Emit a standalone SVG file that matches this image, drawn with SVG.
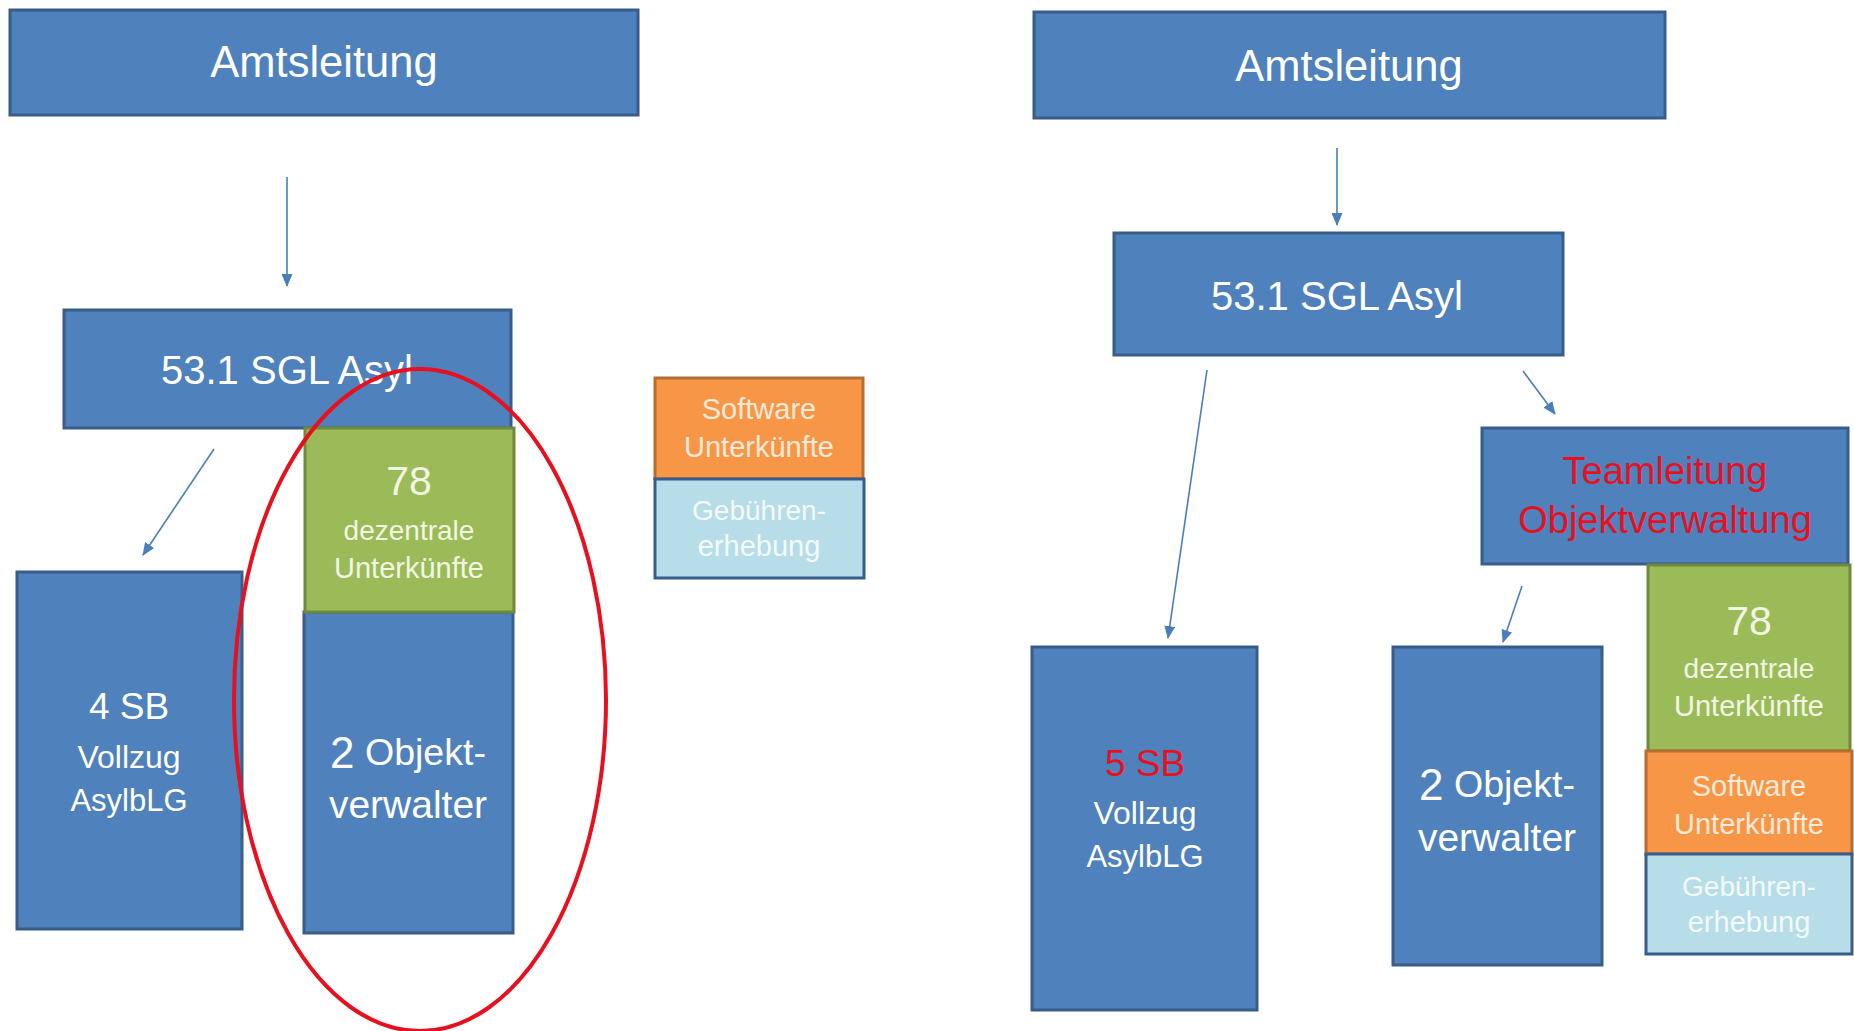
<svg xmlns="http://www.w3.org/2000/svg" width="1854" height="1031" viewBox="0 0 1854 1031">
<style>
text{font-family:"Liberation Sans",Arial,sans-serif;text-anchor:middle;dominant-baseline:central}
.b{fill:#4F81BD;stroke:#385D8A;stroke-width:3}
.g{fill:#9BBB59;stroke:#71893F;stroke-width:3}
.o{fill:#F79646;stroke:#B66D31;stroke-width:3}
.l{fill:#B7DDE8;stroke:#385D8A;stroke-width:3}
.w{fill:#FFFFFF}
.gt{fill:#F2F7E4}
.ot{fill:#FDEADA}
.lt{fill:#F4FAFC}
.r{fill:#E8101E}
.c{stroke:#4A7EBB;stroke-width:1.6;fill:none;marker-end:url(#ah)}
</style>
<defs>
<marker id="ah" markerWidth="13" markerHeight="11" refX="12" refY="5.5" orient="auto" markerUnits="userSpaceOnUse">
<path d="M0,0 L13,5.5 L0,11 Z" fill="#4A7EBB"/>
</marker>
</defs>
<rect width="1854" height="1031" fill="#FFFFFF"/>

<g id="connectors">
<line class="c" x1="287" y1="177" x2="287" y2="286"/>
<line class="c" x1="214" y1="449" x2="143" y2="555"/>
<line class="c" x1="1337" y1="148" x2="1337" y2="225"/>
<line class="c" x1="1207" y1="370" x2="1168" y2="638"/>
<line class="c" x1="1523" y1="371" x2="1555" y2="414"/>
<line class="c" x1="1522" y1="586" x2="1503" y2="642"/>
</g>

<g id="left-amtsleitung"><rect class="b" x="10" y="10" width="628" height="105"/><text class="w" x="324" y="62" font-size="43.5">Amtsleitung</text></g>
<g id="left-sgl"><rect class="b" x="64" y="310" width="447" height="118"/><text class="w" x="287" y="370" font-size="40">53.1 SGL Asyl</text></g>
<g id="left-sb"><rect class="b" x="17" y="572" width="225" height="357"/>
<text class="w" x="129" y="706" font-size="37">4 SB</text>
<text class="w" x="129" y="757" font-size="32">Vollzug</text>
<text class="w" x="129" y="800" font-size="31">AsylbLG</text></g>
<g id="left-objekt"><rect class="b" x="304" y="612" width="209" height="321"/>
<text class="w" x="408" y="752"><tspan font-size="44">2</tspan><tspan font-size="37.5"> Objekt-</tspan></text>
<text class="w" x="408" y="804" font-size="39">verwalter</text></g>
<g id="left-unterkuenfte"><rect class="g" x="305" y="428" width="209" height="184"/>
<text class="gt" x="409" y="481" font-size="41">78</text>
<text class="gt" x="409" y="530" font-size="28">dezentrale</text>
<text class="gt" x="409" y="568" font-size="29">Unterkünfte</text></g>
<g id="left-software"><rect class="o" x="655" y="378" width="208" height="101"/>
<text class="ot" x="759" y="409" font-size="29">Software</text>
<text class="ot" x="759" y="447" font-size="29">Unterkünfte</text></g>
<g id="left-gebuehren"><rect class="l" x="655" y="479" width="209" height="99"/>
<text class="lt" x="759" y="510" font-size="28">Gebühren-</text>
<text class="lt" x="759" y="546" font-size="29">erhebung</text></g>
<g id="ellipse"><ellipse cx="420" cy="700" rx="186" ry="331" fill="none" stroke="#E8101E" stroke-width="4"/></g>

<g id="right-amtsleitung"><rect class="b" x="1034" y="12" width="631" height="106"/><text class="w" x="1349" y="66" font-size="43.5">Amtsleitung</text></g>
<g id="right-sgl"><rect class="b" x="1114" y="233" width="449" height="122"/><text class="w" x="1337" y="296" font-size="40">53.1 SGL Asyl</text></g>
<g id="right-teamleitung"><rect class="b" x="1482" y="428" width="366" height="136"/>
<text class="r" x="1665" y="471" font-size="38">Teamleitung</text>
<text class="r" x="1665" y="520" font-size="38">Objektverwaltung</text></g>
<g id="right-sb"><rect class="b" x="1032" y="647" width="225" height="363"/>
<text class="r" x="1145" y="763" font-size="37">5 SB</text>
<text class="w" x="1145" y="813" font-size="32">Vollzug</text>
<text class="w" x="1145" y="856" font-size="31">AsylbLG</text></g>
<g id="right-objekt"><rect class="b" x="1393" y="647" width="209" height="318"/>
<text class="w" x="1497" y="784"><tspan font-size="44">2</tspan><tspan font-size="37.5"> Objekt-</tspan></text>
<text class="w" x="1497" y="837" font-size="39">verwalter</text></g>
<g id="right-unterkuenfte"><rect class="g" x="1648" y="565" width="202" height="186"/>
<text class="gt" x="1749" y="621" font-size="41">78</text>
<text class="gt" x="1749" y="668" font-size="28">dezentrale</text>
<text class="gt" x="1749" y="706" font-size="29">Unterkünfte</text></g>
<g id="right-software"><rect class="o" x="1646" y="751" width="206" height="103"/>
<text class="ot" x="1749" y="786" font-size="29">Software</text>
<text class="ot" x="1749" y="824" font-size="29">Unterkünfte</text></g>
<g id="right-gebuehren"><rect class="l" x="1646" y="854" width="206" height="100"/>
<text class="lt" x="1749" y="886" font-size="28">Gebühren-</text>
<text class="lt" x="1749" y="922" font-size="29">erhebung</text></g>
</svg>
